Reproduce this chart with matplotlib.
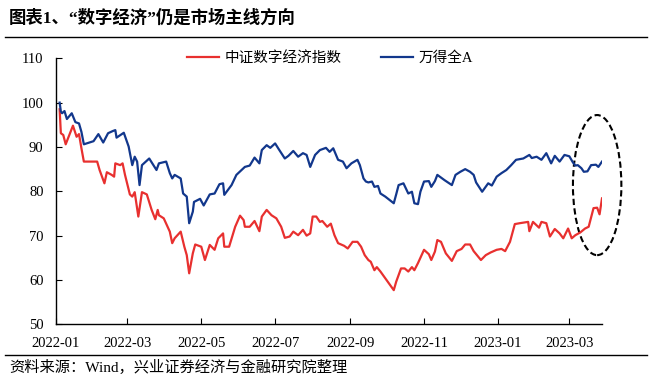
import matplotlib
matplotlib.use('Agg')
import matplotlib.pyplot as plt
import matplotlib.dates as mdates
from matplotlib.patches import Ellipse
from matplotlib.lines import Line2D
import pandas as pd

plt.rcParams['font.family'] = ['Noto Sans CJK SC', 'DejaVu Sans']

title = '图表1、“数字经济”仍是市场主线方向'
source = '资料来源：Wind，兴业证券经济与金融研究院整理'
red_name = '中证数字经济指数'
blue_name = '万得全A'

blue_dates = [
    '2022-01-04', '2022-01-05', '2022-01-06', '2022-01-08', '2022-01-10', '2022-01-14',
    '2022-01-17', '2022-01-20', '2022-01-22', '2022-01-24', '2022-02-01', '2022-02-05',
    '2022-02-09', '2022-02-13', '2022-02-17', '2022-02-19', '2022-02-20', '2022-02-26',
    '2022-03-02', '2022-03-05', '2022-03-07', '2022-03-09', '2022-03-11', '2022-03-13',
    '2022-03-19', '2022-03-25', '2022-03-27', '2022-04-02', '2022-04-05', '2022-04-07',
    '2022-04-09', '2022-04-14', '2022-04-16', '2022-04-19', '2022-04-21', '2022-04-24',
    '2022-04-25', '2022-04-30', '2022-05-03', '2022-05-08', '2022-05-12', '2022-05-16',
    '2022-05-19', '2022-05-20', '2022-05-26', '2022-05-30', '2022-06-06', '2022-06-10',
    '2022-06-14', '2022-06-18', '2022-06-20', '2022-06-24', '2022-06-27', '2022-07-01',
    '2022-07-04', '2022-07-09', '2022-07-12', '2022-07-16', '2022-07-20', '2022-07-24',
    '2022-07-27', '2022-07-30', '2022-08-03', '2022-08-07', '2022-08-12', '2022-08-15',
    '2022-08-18', '2022-08-22', '2022-08-26', '2022-08-29', '2022-09-02', '2022-09-07',
    '2022-09-09', '2022-09-12', '2022-09-14', '2022-09-16', '2022-09-19', '2022-09-21',
    '2022-09-24', '2022-09-26', '2022-09-30', '2022-10-07', '2022-10-09', '2022-10-11',
    '2022-10-15', '2022-10-19', '2022-10-22', '2022-10-24', '2022-10-27', '2022-10-29',
    '2022-11-01', '2022-11-05', '2022-11-07', '2022-11-10', '2022-11-12', '2022-11-15',
    '2022-11-18', '2022-11-24', '2022-11-27', '2022-12-01', '2022-12-05', '2022-12-09',
    '2022-12-12', '2022-12-14', '2022-12-19', '2022-12-24', '2022-12-27', '2022-12-31',
    '2023-01-04', '2023-01-08', '2023-01-12', '2023-01-16', '2023-01-22', '2023-01-27',
    '2023-01-29', '2023-02-02', '2023-02-06', '2023-02-10', '2023-02-14', '2023-02-17',
    '2023-02-21', '2023-02-25', '2023-03-01', '2023-03-04', '2023-03-06', '2023-03-08',
    '2023-03-11', '2023-03-13', '2023-03-16', '2023-03-19', '2023-03-23', '2023-03-25',
    '2023-03-28',
]
blue_values = [
    100.0, 98.0, 97.6, 98.1, 96.3, 97.6,
    95.6, 95.3, 93.4, 90.6, 91.3, 92.9,
    91.0, 93.1, 93.6, 93.8, 92.1, 93.2,
    90.1, 85.9, 87.8, 86.7, 81.4, 85.9,
    87.4, 84.8, 86.3, 86.7, 84.1, 82.9,
    83.7, 82.9, 79.5, 78.8, 72.8, 75.4,
    77.6, 78.3, 76.8, 79.3, 79.5, 81.6,
    81.8, 79.2, 81.4, 83.7, 85.5, 85.8,
    87.6, 86.3, 89.3, 90.4, 89.8, 90.8,
    89.5, 87.4, 88.0, 89.1, 87.8, 88.6,
    88.2, 85.5, 88.2, 89.3, 89.8, 88.9,
    89.7, 87.1, 86.7, 85.2, 86.3, 87.1,
    85.9, 82.9, 82.2, 82.0, 82.2, 81.0,
    81.2, 79.5, 78.8, 77.3, 79.3, 81.4,
    81.8, 79.5, 79.9, 77.3, 77.1, 79.9,
    82.2, 82.3, 81.0, 82.3, 83.7, 83.1,
    82.5, 81.4, 83.7, 84.4, 85.0, 84.4,
    83.7, 82.0, 79.9, 81.8, 81.3, 83.3,
    84.1, 84.8, 85.9, 87.1, 87.4, 88.2,
    87.5, 87.8, 87.1, 88.6, 86.3, 88.0,
    86.7, 88.2, 87.9, 86.5, 85.8, 85.9,
    85.2, 84.4, 84.5, 85.9, 86.0, 85.5,
    86.7,
]

red_dates = [
    '2022-01-04', '2022-01-05', '2022-01-07', '2022-01-09', '2022-01-11', '2022-01-15',
    '2022-01-18', '2022-01-20', '2022-01-22', '2022-01-24', '2022-02-04', '2022-02-06',
    '2022-02-10', '2022-02-12', '2022-02-16', '2022-02-18', '2022-02-19', '2022-02-23',
    '2022-02-25', '2022-02-27', '2022-03-03', '2022-03-05', '2022-03-07', '2022-03-10',
    '2022-03-13', '2022-03-17', '2022-03-21', '2022-03-24', '2022-03-26', '2022-03-27',
    '2022-03-31', '2022-04-05', '2022-04-07', '2022-04-09', '2022-04-14', '2022-04-17',
    '2022-04-19', '2022-04-21', '2022-04-24', '2022-04-26', '2022-05-01', '2022-05-04',
    '2022-05-08', '2022-05-12', '2022-05-15', '2022-05-19', '2022-05-20', '2022-05-24',
    '2022-05-29', '2022-06-02', '2022-06-05', '2022-06-06', '2022-06-10', '2022-06-14',
    '2022-06-18', '2022-06-20', '2022-06-24', '2022-06-28', '2022-07-02', '2022-07-06',
    '2022-07-09', '2022-07-13', '2022-07-16', '2022-07-20', '2022-07-24', '2022-07-27',
    '2022-07-30', '2022-08-01', '2022-08-04', '2022-08-07', '2022-08-09', '2022-08-13',
    '2022-08-16', '2022-08-19', '2022-08-22', '2022-08-27', '2022-08-30', '2022-09-03',
    '2022-09-07', '2022-09-10', '2022-09-13', '2022-09-16', '2022-09-18', '2022-09-21',
    '2022-09-23', '2022-09-26', '2022-10-01', '2022-10-07', '2022-10-09', '2022-10-13',
    '2022-10-16', '2022-10-19', '2022-10-22', '2022-10-24', '2022-10-27', '2022-11-01',
    '2022-11-05', '2022-11-07', '2022-11-10', '2022-11-12', '2022-11-15', '2022-11-19',
    '2022-11-24', '2022-11-28', '2022-12-02', '2022-12-05', '2022-12-09', '2022-12-12',
    '2022-12-18', '2022-12-22', '2022-12-26', '2022-12-31', '2023-01-04', '2023-01-07',
    '2023-01-11', '2023-01-15', '2023-01-19', '2023-01-26', '2023-01-27', '2023-01-30',
    '2023-02-04', '2023-02-06', '2023-02-10', '2023-02-13', '2023-02-17', '2023-02-21',
    '2023-02-24', '2023-02-28', '2023-03-03', '2023-03-06', '2023-03-10', '2023-03-14',
    '2023-03-17', '2023-03-21', '2023-03-24', '2023-03-26', '2023-03-28',
]
red_values = [
    98.5, 93.1, 92.7, 90.6, 92.0, 94.8,
    92.3, 92.9, 89.7, 86.7, 86.7, 84.8,
    81.8, 84.3, 83.7, 83.3, 86.3, 85.9,
    86.3, 83.7, 79.3, 78.8, 79.8, 74.3,
    79.8, 79.3, 75.8, 73.7, 75.8, 74.6,
    73.9, 70.9, 68.3, 69.4, 70.9, 67.5,
    65.6, 61.5, 66.0, 68.0, 67.5, 64.5,
    67.9, 66.8, 69.4, 70.5, 67.5, 67.5,
    72.0, 74.5, 73.5, 72.0, 72.0, 73.3,
    71.0, 74.3, 75.8, 74.6, 73.9, 72.0,
    69.5, 69.8, 70.9, 70.1, 71.3, 70.0,
    70.5, 74.3, 74.3, 73.1, 73.3, 72.0,
    72.7, 70.1, 68.3, 67.7, 67.1, 68.6,
    68.6, 67.5, 65.6, 64.5, 64.1, 62.2,
    62.9, 61.9, 60.0, 57.7, 59.6, 62.6,
    62.6, 61.9, 62.9, 62.2, 63.8, 66.8,
    65.8, 64.5, 66.4, 69.0, 68.6, 66.0,
    64.3, 66.5, 67.0, 68.0, 68.0, 66.5,
    64.5, 65.6, 66.2, 66.8, 67.0, 66.5,
    68.6, 72.6, 72.8, 73.1, 71.0, 73.1,
    71.8, 73.1, 72.8, 69.8, 71.5, 70.5,
    69.4, 71.6, 69.4, 70.1, 70.7, 71.6,
    72.0, 76.2, 76.3, 74.8, 78.4,
]

tick_months = ['2022-01', '2022-03', '2022-05', '2022-07', '2022-09', '2022-11', '2023-01', '2023-03']

red_color = '#E8302F'
blue_color = '#12378C'
serif = 'Liberation Serif'
mixed = ['Liberation Serif', 'Noto Sans CJK SC']

fig = plt.figure(figsize=(6.52, 3.80), dpi=100)
ax = fig.add_axes([0.0859, 0.1466, 0.8374, 0.7000])

ax.plot(pd.to_datetime(red_dates), red_values, color=red_color, lw=1.6, label=red_name)
ax.plot(pd.to_datetime(blue_dates), blue_values, color=blue_color, lw=1.6, label=blue_name)

ax.set_ylim(50, 110)
ax.set_yticks(range(50, 111, 10))
ax.set_xlim(pd.Timestamp('2022-01-01'), pd.Timestamp(blue_dates[-1]))
ax.set_xticks(pd.to_datetime(tick_months))
ax.xaxis.set_major_formatter(mdates.DateFormatter('%Y-%m'))

ax.spines['top'].set_visible(False)
ax.spines['right'].set_visible(False)
ax.spines['left'].set_linewidth(1.0)
ax.spines['bottom'].set_linewidth(1.0)
ax.tick_params(direction='in', length=4, width=0.8, pad=9, labelsize=10.5)
for lab in ax.get_xticklabels() + ax.get_yticklabels():
    lab.set_fontfamily(serif)

# dashed ellipse round the last weeks
center = mdates.date2num(pd.Timestamp('2023-03-24'))
ell = Ellipse((center, 81.4), width=40, height=31.6, fill=False, edgecolor='black',
              linestyle=(0, (3, 1.6)), lw=1.5, clip_on=False)
ax.add_patch(ell)

handles = [Line2D([], [], color=red_color, lw=1.6), Line2D([], [], color=blue_color, lw=1.6)]
leg = ax.legend(handles, [red_name, blue_name], loc='center', bbox_to_anchor=(0.502, 1.0),
                ncol=2, frameon=False, fontsize=10.5, handlelength=2.2, handletextpad=0.4,
                columnspacing=2.7)
for t in leg.get_texts():
    t.set_fontfamily(mixed)

fig.text(0.014, 1 - 18 / 380, title, fontsize=12.5, fontweight='bold', va='center', ha='left',
         family=mixed)
fig.add_artist(Line2D([5 / 652, 647 / 652], [1 - 37 / 380, 1 - 37 / 380], color='black', lw=1.0))
fig.add_artist(Line2D([5 / 652, 647 / 652], [1 - 355 / 380, 1 - 355 / 380], color='black', lw=1.0))
fig.text(0.014, 1 - 367 / 380, source, fontsize=11, va='center', ha='left', family=mixed)

fig.savefig('out.png', dpi=100)
